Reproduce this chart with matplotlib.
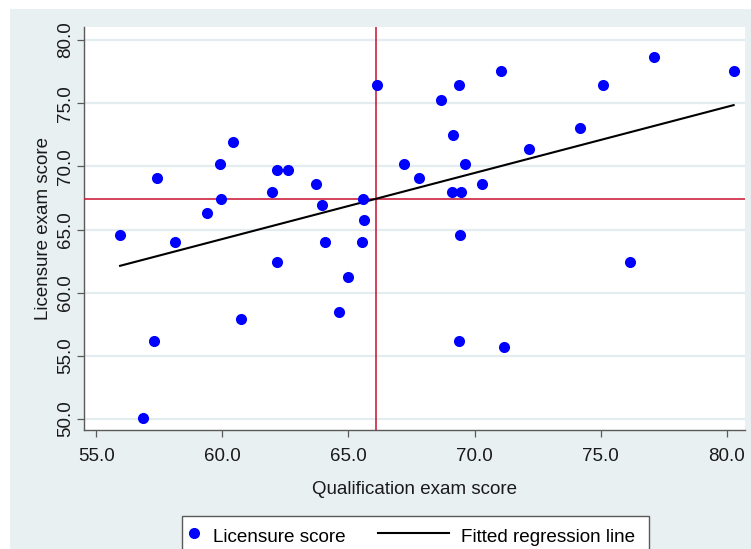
import matplotlib
matplotlib.use('Agg')
import numpy as np
import matplotlib.pyplot as plt
from matplotlib.lines import Line2D
from matplotlib.patches import Rectangle
from matplotlib.legend_handler import HandlerLine2D

#==========================================================
# Data
#==========================================================
qual = [66.14, 60.41, 59.93, 57.42, 62.16, 62.60, 61.97, 59.95, 63.73, 63.96,
        65.57, 59.40, 65.60, 55.95, 58.11, 64.06, 65.52, 67.20, 67.78, 71.03,
        69.40, 68.69, 69.13, 69.62, 70.28, 69.10, 69.46, 69.44, 72.14, 74.18,
        75.08, 77.11, 80.27, 62.16, 64.97, 64.62, 60.75, 57.28, 56.87, 76.17,
        69.40, 71.17]
lic = [76.42, 71.90, 70.21, 69.10, 69.68, 69.68, 67.98, 67.42, 68.58, 66.92,
       67.45, 66.32, 65.77, 64.60, 64.03, 64.03, 64.03, 70.21, 69.06, 77.55,
       76.42, 75.26, 72.50, 70.21, 68.58, 67.98, 67.98, 64.60, 71.37, 73.05,
       76.42, 78.66, 77.55, 62.40, 61.24, 58.48, 57.93, 56.19, 50.06, 62.40,
       56.19, 55.67]
xticks = [55.0, 60.0, 65.0, 70.0, 75.0, 80.0]
yticks = [50.0, 55.0, 60.0, 65.0, 70.0, 75.0, 80.0]

x = np.array(qual)
y = np.array(lic)
b1, b0 = np.polyfit(x, y, 1)
xf = np.array([x.min(), x.max()])
yf = b0 + b1 * xf

#==========================================================
# plot
#==========================================================
plt.rcParams['font.family'] = ['Liberation Sans', 'DejaVu Sans']
plt.rcParams['font.size'] = 13

W, H = 751, 549
fig = plt.figure(figsize=(W/100, H/100), dpi=100, facecolor='white')
fig.patches.append(Rectangle((10/W, 0), 1-10/W, (H-9)/H, transform=fig.transFigure,
                             facecolor='#e9f0f2', edgecolor='none', zorder=-10))

ax = fig.add_axes([84/W, 1-430/H, (745-84)/W, (430-27)/H])
ax.set_facecolor('white')

ax.plot(x, y, 'o', color='#0000ff', markersize=8, markeredgewidth=0, zorder=5)
ax.plot(xf, yf, color='black', linewidth=1.5, zorder=4)
ax.axvline(x.mean(), color='#c8102e', linewidth=1.1, zorder=3)
ax.axhline(y.mean(), color='#c8102e', linewidth=1.1, zorder=3)

ax.set_xlim(54.52, 80.72)
ax.set_ylim(49.13, 81.03)
ax.set_xticks(xticks)
ax.set_yticks(yticks)
ax.set_xticklabels(['%.1f' % v for v in xticks])
ax.set_yticklabels(['%.1f' % v for v in yticks], rotation=90, va='center')
ax.grid(axis='y', color='#e3ecef', linewidth=1.6, zorder=1)
ax.set_axisbelow(True)

for s in ['top', 'right']:
    ax.spines[s].set_visible(False)
for s in ['left', 'bottom']:
    ax.spines[s].set_color('#5a5a5a')
    ax.spines[s].set_linewidth(1.0)
ax.tick_params(axis='both', direction='out', length=5, width=0.9, color='#5a5a5a',
               labelsize=13.5, labelcolor='#1a1a1a')
ax.tick_params(axis='x', pad=8)
ax.tick_params(axis='y', pad=2)

ax.set_xlabel('Qualification exam score', fontsize=13.5, color='#1a1a1a', va='center')
ax.xaxis.set_label_coords(0.5, -(489-430)/403)
ax.set_ylabel('Licensure exam score', fontsize=13.5, color='#1a1a1a', va='center')
ax.yaxis.set_label_coords(-(84-44)/661, 0.5)

#==========================================================
# legend
#==========================================================
class LongLine(HandlerLine2D):
    def get_xdata(self, legend, xdescent, ydescent, width, height, fontsize):
        return ([-xdescent - 3.2*fontsize, -xdescent + width + 0.19*fontsize],
                [-xdescent + width])

h1 = Line2D([], [], linestyle='none', marker='o', color='#0000ff', markersize=8,
            markeredgewidth=0)
h2 = Line2D([], [], color='black', linewidth=1.5)
leg = fig.legend([h1, h2], ['Licensure score', 'Fitted regression line '],
                 loc='upper left', bbox_to_anchor=(182/W, 1-516/H), ncol=2,
                 handlelength=0.37, handletextpad=0.82, columnspacing=4.9,
                 handleheight=1.4, borderpad=0.45, borderaxespad=0,
                 fancybox=False, frameon=True,
                 edgecolor='#5a5a5a', facecolor='white', framealpha=1,
                 fontsize=13.6, handler_map={h2: LongLine()})
leg.get_frame().set_linewidth(1.0)

plt.savefig('out.png', dpi=100)
